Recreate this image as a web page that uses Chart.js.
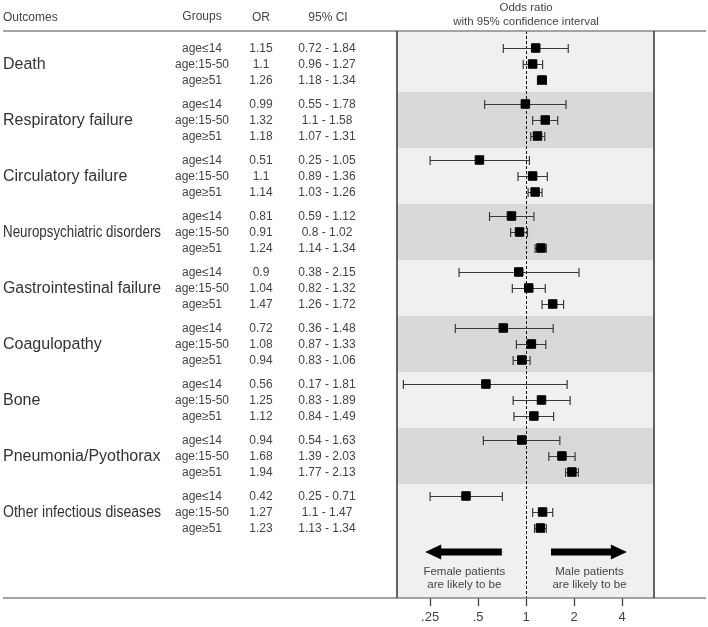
<!DOCTYPE html>
<html>
<head>
<meta charset="utf-8">
<script src="https://cdn.jsdelivr.net/npm/chart.js@4/dist/chart.umd.min.js"></script>
<style>
  html, body { margin: 0; padding: 0; background: #fff; }
  #wrap { width: 708px; height: 627px; }
</style>
</head>
<body>
<div id="wrap"><canvas id="c" width="708" height="627"></canvas></div>
<script>
// ---------- data ----------
const outcomes = ["Death", "Respiratory failure", "Circulatory failure", "Neuropsychiatric disorders",
  "Gastrointestinal failure", "Coagulopathy", "Bone", "Pneumonia/Pyothorax", "Other infectious diseases"];
const groups = ["age≤14", "age:15-50", "age≥51"];
const orValues = [
  1.15, 1.1, 1.26,
  0.99, 1.32, 1.18,
  0.51, 1.1, 1.14,
  0.81, 0.91, 1.24,
  0.9, 1.04, 1.47,
  0.72, 1.08, 0.94,
  0.56, 1.25, 1.12,
  0.94, 1.68, 1.94,
  0.42, 1.27, 1.23
];
const ciLow = [
  0.72, 0.96, 1.18,
  0.55, 1.1, 1.07,
  0.25, 0.89, 1.03,
  0.59, 0.8, 1.14,
  0.38, 0.82, 1.26,
  0.36, 0.87, 0.83,
  0.17, 0.83, 0.84,
  0.54, 1.39, 1.77,
  0.25, 1.1, 1.13
];
const ciHigh = [
  1.84, 1.27, 1.34,
  1.78, 1.58, 1.31,
  1.05, 1.36, 1.26,
  1.12, 1.02, 1.34,
  2.15, 1.32, 1.72,
  1.48, 1.33, 1.06,
  1.81, 1.89, 1.49,
  1.63, 2.03, 2.13,
  0.71, 1.47, 1.34
];
const orLabels = [
  "1.15", "1.1", "1.26",
  "0.99", "1.32", "1.18",
  "0.51", "1.1", "1.14",
  "0.81", "0.91", "1.24",
  "0.9", "1.04", "1.47",
  "0.72", "1.08", "0.94",
  "0.56", "1.25", "1.12",
  "0.94", "1.68", "1.94",
  "0.42", "1.27", "1.23"
];
const ciLabels = [
  "0.72 - 1.84", "0.96 - 1.27", "1.18 - 1.34",
  "0.55 - 1.78", "1.1 - 1.58", "1.07 - 1.31",
  "0.25 - 1.05", "0.89 - 1.36", "1.03 - 1.26",
  "0.59 - 1.12", "0.8 - 1.02", "1.14 - 1.34",
  "0.38 - 2.15", "0.82 - 1.32", "1.26 - 1.72",
  "0.36 - 1.48", "0.87 - 1.33", "0.83 - 1.06",
  "0.17 - 1.81", "0.83 - 1.89", "0.84 - 1.49",
  "0.54 - 1.63", "1.39 - 2.03", "1.77 - 2.13",
  "0.25 - 0.71", "1.1 - 1.47", "1.13 - 1.34"
];
const xTickValues = [0.25, 0.5, 1, 2, 4];
const xTickLabels = [".25", ".5", "1", "2", "4"];
const headers = ["Outcomes", "Groups", "OR", "95% CI"];
const titleLines = ["Odds ratio", "with 95% confidence interval"];
const leftNote = ["Female patients", "are likely to be"];
const rightNote = ["Male patients", "are likely to be"];

// row position (in row units): group g, row r
const GROUP_STEP = 3.5;
function rowPos(i) { return Math.floor(i / 3) * GROUP_STEP + (i % 3); }
const points = orValues.map((v, i) => ({ x: v, y: rowPos(i) }));

const FONT = "'Liberation Sans', Arial, sans-serif";
const OUTCOME_MAX_W = 158;

const forestPlugin = {
  id: 'forest',
  beforeDraw(chart) {
    const { ctx, chartArea: a, scales: { x, y } } = chart;
    ctx.save();
    ctx.fillStyle = '#f0f0f0';
    ctx.fillRect(a.left, a.top, a.right - a.left, a.bottom - a.top);
    ctx.fillStyle = '#d9d9d9';
    for (let g = 1; g < outcomes.length; g += 2) {
      const mid = g * GROUP_STEP + 1;
      const y0 = y.getPixelForValue(mid - 1.75);
      const y1 = y.getPixelForValue(mid + 1.75);
      ctx.fillRect(a.left, y0, a.right - a.left, y1 - y0);
    }
    ctx.restore();
  },
  beforeDatasetsDraw(chart) {
    const { ctx, chartArea: a, scales: { x, y } } = chart;
    ctx.save();
    ctx.strokeStyle = '#111';
    ctx.lineWidth = 1;
    ctx.setLineDash([3, 2]);
    const x1 = Math.round(x.getPixelForValue(1)) + 0.5;
    ctx.beginPath();
    ctx.moveTo(x1, a.top);
    ctx.lineTo(x1, a.bottom);
    ctx.stroke();
    ctx.setLineDash([]);
    ctx.strokeStyle = '#3a3a3a';
    ctx.lineWidth = 1.2;
    for (let i = 0; i < orValues.length; i++) {
      const py = Math.round(y.getPixelForValue(rowPos(i))) + 0.5;
      const xl = x.getPixelForValue(ciLow[i]);
      const xh = x.getPixelForValue(ciHigh[i]);
      ctx.beginPath();
      ctx.moveTo(xl, py); ctx.lineTo(xh, py);
      ctx.moveTo(xl, py - 4.5); ctx.lineTo(xl, py + 4.5);
      ctx.moveTo(xh, py - 4.5); ctx.lineTo(xh, py + 4.5);
      ctx.stroke();
    }
    ctx.restore();
  },
  afterDraw(chart) {
    const { ctx, chartArea: a, scales: { x, y } } = chart;
    const W = chart.width;
    ctx.save();
    ctx.strokeStyle = '#888';
    ctx.lineWidth = 1.5;
    ctx.beginPath();
    ctx.moveTo(3, a.top); ctx.lineTo(W - 2, a.top);
    ctx.moveTo(3, a.bottom); ctx.lineTo(W - 2, a.bottom);
    ctx.stroke();
    ctx.strokeStyle = '#333';
    ctx.beginPath();
    ctx.moveTo(a.left, a.top); ctx.lineTo(a.left, a.bottom);
    ctx.moveTo(a.right, a.top); ctx.lineTo(a.right, a.bottom);
    ctx.stroke();

    ctx.fillStyle = '#444';
    ctx.textBaseline = 'middle';
    ctx.font = '12px ' + FONT;
    ctx.textAlign = 'left';
    ctx.fillText(headers[0], 3, 18);
    ctx.textAlign = 'center';
    ctx.fillText(headers[1], 202, 17);
    ctx.fillText(headers[2], 261, 18);
    ctx.fillText(headers[3], 328, 18);
    const cx = x.getPixelForValue(1);
    ctx.font = '11.5px ' + FONT;
    ctx.fillText(titleLines[0], cx, 8);
    ctx.fillText(titleLines[1], cx, 22);

    for (let g = 0; g < outcomes.length; g++) {
      ctx.fillStyle = '#333';
      ctx.font = '16px ' + FONT;
      ctx.textAlign = 'left';
      ctx.fillText(outcomes[g], 3, y.getPixelForValue(g * GROUP_STEP + 1) + 1, OUTCOME_MAX_W);
    }
    ctx.fillStyle = '#444';
    ctx.font = '12px ' + FONT;
    ctx.textAlign = 'center';
    for (let i = 0; i < orValues.length; i++) {
      const py = y.getPixelForValue(rowPos(i)) + 1;
      ctx.fillText(groups[i % 3], 202, py);
      ctx.fillText(orLabels[i], 261, py);
      ctx.fillText(ciLabels[i], 327, py);
    }

    const ay = y.getPixelForValue(31.5);
    ctx.fillStyle = '#000';
    function arrow(tip, tail) {
      const dir = tip < tail ? 1 : -1;
      const headBase = tip + dir * 16;
      ctx.beginPath();
      ctx.moveTo(tip, ay);
      ctx.lineTo(headBase, ay - 7.5);
      ctx.lineTo(headBase, ay - 3.5);
      ctx.lineTo(tail, ay - 3.5);
      ctx.lineTo(tail, ay + 3.5);
      ctx.lineTo(headBase, ay + 3.5);
      ctx.lineTo(headBase, ay + 7.5);
      ctx.closePath();
      ctx.fill();
    }
    arrow(x.getPixelForValue(0.233), x.getPixelForValue(0.705));
    arrow(x.getPixelForValue(4.29), x.getPixelForValue(1.435));
    ctx.fillStyle = '#444';
    ctx.font = '11.5px ' + FONT;
    ctx.textAlign = 'center';
    const lx = x.getPixelForValue(0.41), rx = x.getPixelForValue(2.5);
    ctx.fillText(leftNote[0], lx, y.getPixelForValue(32.75));
    ctx.fillText(leftNote[1], lx, y.getPixelForValue(33.55));
    ctx.fillText(rightNote[0], rx, y.getPixelForValue(32.75));
    ctx.fillText(rightNote[1], rx, y.getPixelForValue(33.55));
    ctx.restore();
  }
};

new Chart(document.getElementById('c'), {
  type: 'scatter',
  data: {
    datasets: [{
      data: points,
      pointStyle: 'rect',
      pointRadius: 6,
      pointHoverRadius: 6,
      backgroundColor: '#000',
      borderColor: '#000',
      borderWidth: 1
    }]
  },
  options: {
    responsive: false,
    animation: false,
    events: [],
    layout: { padding: { left: 397, right: 54, top: 31, bottom: 0 } },
    plugins: { legend: { display: false }, tooltip: { enabled: false } },
    scales: {
      x: {
        type: 'logarithmic',
        bounds: 'data',
        min: 0.155,
        max: 6.35,
        afterBuildTicks(scale) {
          scale.ticks = xTickValues.map(v => ({ value: v }));
        },
        afterFit(scale) { scale.height = 29; },
        grid: {
          drawOnChartArea: false,
          drawTicks: true,
          tickLength: 8,
          tickColor: '#444',
          tickWidth: 1.3
        },
        border: { display: false },
        ticks: {
          autoSkip: false,
          maxRotation: 0,
          padding: 4,
          color: '#444',
          font: { size: 13, family: FONT },
          callback: (v) => {
            const k = xTickValues.indexOf(v);
            return k >= 0 ? xTickLabels[k] : '';
          }
        }
      },
      y: {
        type: 'linear',
        display: false,
        reverse: true,
        min: -1.0625,
        max: 34.375
      }
    }
  },
  plugins: [forestPlugin]
});
</script>
</body>
</html>
